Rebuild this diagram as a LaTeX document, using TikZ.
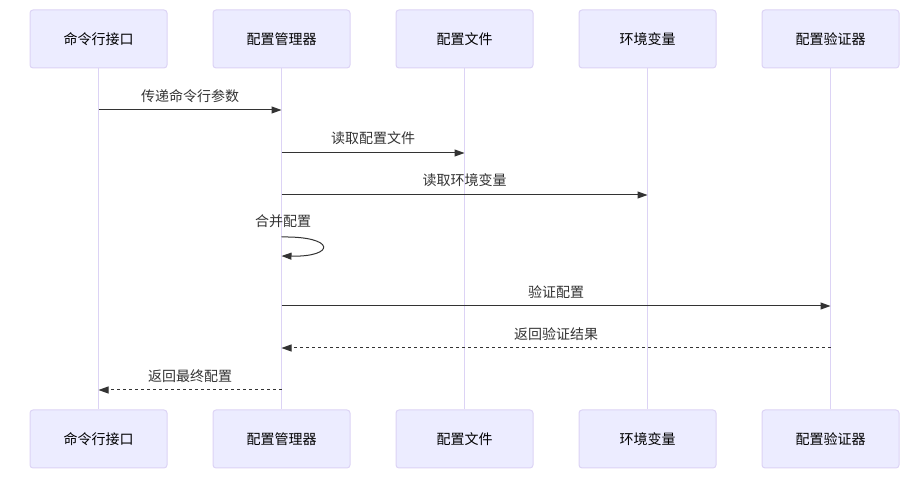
\documentclass[tikz,border=0pt]{standalone}
\usepackage{fontspec}
\setmainfont{Noto Sans CJK SC}
\usetikzlibrary{arrows.meta}
\definecolor{actfill}{HTML}{ECECFF}
\definecolor{actline}{HTML}{DCD3F5}
\definecolor{msgcol}{HTML}{333333}
\tikzset{
  actor/.style={draw=actline, line width=1pt, fill=actfill, rounded corners=3pt,
    minimum width=137pt, minimum height=58pt, inner sep=0pt, font=\fontsize{14pt}{16pt}\selectfont, text=black},
  lifeline/.style={draw=actline, line width=1.5pt},
  msg/.style={draw=msgcol, line width=1pt, -{Triangle[length=10pt,width=7pt]}},
  reply/.style={msg, dash pattern=on 3pt off 3pt},
  lbl/.style={font=\fontsize{14pt}{16pt}\selectfont, text=msgcol, inner sep=0pt},
}
\begin{document}
\begin{tikzpicture}[x=1pt,y=-1pt]
\useasboundingbox (0,0) rectangle (922,478);
% lifelines first
\foreach \i/\x in {1/98.5,2/281.5,3/464.5,4/647.5,5/830.5}{
  \coordinate (t\i) at (\x,68);
  \coordinate (b\i) at (\x,409);
}
\foreach \i in {1,...,5}{ \draw[lifeline] (t\i) -- (b\i); }
% actors
\node[actor] (A1) at (98.5,39) {命令行接口};
\node[actor] (A2) at (281.5,39) {配置管理器};
\node[actor] (A3) at (464.5,39) {配置文件};
\node[actor] (A4) at (647.5,39) {环境变量};
\node[actor] (A5) at (830.5,39) {配置验证器};
\node[actor] (B1) at (98.5,439) {命令行接口};
\node[actor] (B2) at (281.5,439) {配置管理器};
\node[actor] (B3) at (464.5,439) {配置文件};
\node[actor] (B4) at (647.5,439) {环境变量};
\node[actor] (B5) at (830.5,439) {配置验证器};
% message endpoints
\coordinate (m1s) at (98.5,110);  \coordinate (m1e) at (281.5,110);
\coordinate (m2s) at (281.5,153); \coordinate (m2e) at (464.5,153);
\coordinate (m3s) at (281.5,195); \coordinate (m3e) at (647.5,195);
\coordinate (m4s) at (281.5,237); \coordinate (m4e) at (281.5,256);
\coordinate (m5s) at (281.5,306); \coordinate (m5e) at (830.5,306);
\coordinate (m6s) at (830.5,348); \coordinate (m6e) at (281.5,348);
\coordinate (m7s) at (281.5,390); \coordinate (m7e) at (98.5,390);
% messages
\draw[msg] (m1s) -- (m1e);
\node[lbl] (l1) at (190,96) {传递命令行参数};
\draw[msg] (m2s) -- (m2e);
\node[lbl] (l2) at (373,138) {读取配置文件};
\draw[msg] (m3s) -- (m3e);
\node[lbl] (l3) at (464.5,180) {读取环境变量};
\draw[msg] (m4s) .. controls (336,236) and (336,257) .. (m4e);
\node[lbl] (l4) at (283,221) {合并配置};
\draw[msg] (m5s) -- (m5e);
\node[lbl] (l5) at (556,292) {验证配置};
\draw[reply] (m6s) -- (m6e);
\node[lbl] (l6) at (556,334) {返回验证结果};
\draw[reply] (m7s) -- (m7e);
\node[lbl] (l7) at (190,376) {返回最终配置};
\end{tikzpicture}
\end{document}
